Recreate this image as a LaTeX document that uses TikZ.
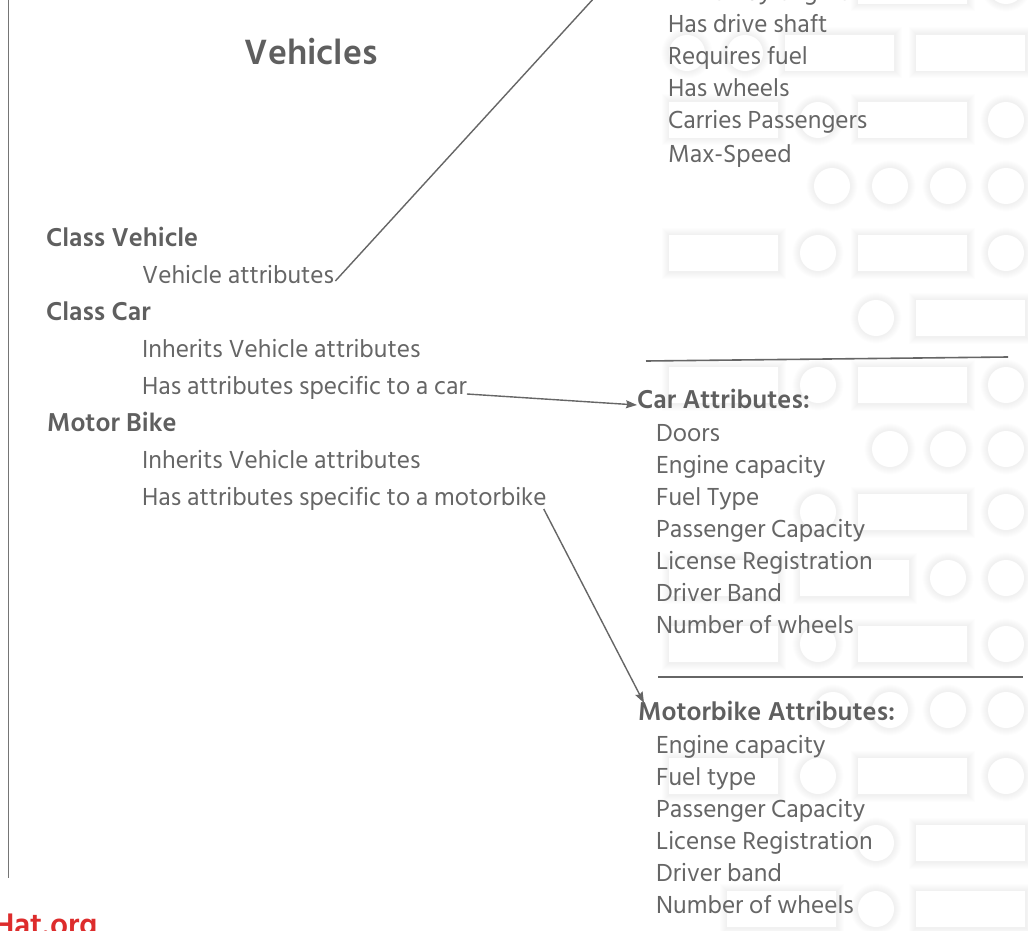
\documentclass[tikz,border=0pt]{standalone}
\usepackage{fontspec}
\setmainfont{Hind Siliguri}
\usetikzlibrary{arrows.meta}
\definecolor{txt}{HTML}{666666}
\definecolor{txtb}{HTML}{5F5F5F}
\definecolor{lin}{HTML}{666666}
\definecolor{wmred}{HTML}{DD2C2C}
\begin{document}
\begin{tikzpicture}[x=1pt,y=-1pt,
  tile/.style={fill=white,draw=none,
    preaction={draw=black,draw opacity=0.009,line width=15pt},
    preaction={draw=black,draw opacity=0.009,line width=13pt},
    preaction={draw=black,draw opacity=0.009,line width=11pt},
    preaction={draw=black,draw opacity=0.009,line width=9pt},
    preaction={draw=black,draw opacity=0.009,line width=7pt},
    preaction={draw=black,draw opacity=0.009,line width=5pt},
    preaction={draw=black,draw opacity=0.009,line width=3pt}},
  t/.style={anchor=base west,inner sep=0pt,text=txt,font=\fontsize{25.3}{28}\selectfont},
  b/.style={anchor=base west,inner sep=0pt,text=txtb,font=\fontsize{26.5}{28}\selectfont\bfseries},
  ttl/.style={anchor=base,inner sep=0pt,text=txtb,font=\fontsize{36}{40}\selectfont\bfseries},
  conn/.style={draw=lin,line width=1.4pt},
  arr/.style={conn,-{Stealth[length=11pt,width=8pt,inset=1.5pt]}},
  rulel/.style={draw=lin,line width=1.6pt}
]
\useasboundingbox (0,0) rectangle (1028,931);
\fill[white] (0,0) rectangle (1028,931);
\begin{scope}
\clip (0,0) rectangle (1028,931);
% ---------- background tiles ----------
% row -1
\path[tile] (858,-32) rectangle ++(109,36);
\path[tile] (1006,-14) circle[radius=18pt];
% row 0
\path[tile] (687,53) circle[radius=18pt];
\path[tile] (745,53) circle[radius=18pt];
\path[tile] (785,35) rectangle ++(109,36);
\path[tile] (916,35) rectangle ++(109,36);
% row 1
\path[tile] (669,102) rectangle ++(109,36);
\path[tile] (818,120) circle[radius=18pt];
\path[tile] (858,102) rectangle ++(109,36);
\path[tile] (1006,120) circle[radius=18pt];
% row 2
\foreach \cx in {832,890,948,1006} {\path[tile] (\cx,186) circle[radius=18pt];}
% row 3
\path[tile] (669,235) rectangle ++(109,36);
\path[tile] (818,253) circle[radius=18pt];
\path[tile] (858,235) rectangle ++(109,36);
\path[tile] (1006,253) circle[radius=18pt];
% row 4
\path[tile] (876,318) circle[radius=18pt];
\path[tile] (916,300) rectangle ++(109,36);
% row 5
\path[tile] (669,367) rectangle ++(109,36);
\path[tile] (818,385) circle[radius=18pt];
\path[tile] (858,367) rectangle ++(109,36);
\path[tile] (1006,385) circle[radius=18pt];
% row 6
\foreach \cx in {890,948,1006} {\path[tile] (\cx,449) circle[radius=18pt];}
% row 7
\path[tile] (818,512) circle[radius=18pt];
\path[tile] (858,494) rectangle ++(109,36);
\path[tile] (1006,512) circle[radius=18pt];
% row 8
\path[tile] (669,560) rectangle ++(109,36);
\path[tile] (800,560) rectangle ++(109,36);
\path[tile] (948,578) circle[radius=18pt];
\path[tile] (1006,578) circle[radius=18pt];
% row 9
\path[tile] (669,626) rectangle ++(109,36);
\path[tile] (818,644) circle[radius=18pt];
\path[tile] (858,626) rectangle ++(109,36);
\path[tile] (1006,644) circle[radius=18pt];
% row 10
\foreach \cx in {833,890,948,1006} {\path[tile] (\cx,710) circle[radius=18pt];}
% row 11
\path[tile] (669,758) rectangle ++(109,36);
\path[tile] (818,776) circle[radius=18pt];
\path[tile] (858,758) rectangle ++(109,36);
\path[tile] (1006,776) circle[radius=18pt];
% row 12
\path[tile] (876,843) circle[radius=18pt];
\path[tile] (916,825) rectangle ++(109,36);
% row 13
\path[tile] (727,891) rectangle ++(109,36);
\path[tile] (876,909) circle[radius=18pt];
\path[tile] (916,891) rectangle ++(109,36);

% ---------- rules ----------
\coordinate (vl1) at (8.5,0);
\coordinate (vl2) at (8.5,878);
\draw[draw=lin!90!white,line width=1.6pt] (vl1) -- (vl2);
\coordinate (ra1) at (646,361);
\coordinate (rb1) at (1008,357);
\draw[rulel] (ra1) -- (rb1);
\coordinate (ra2) at (658,677);
\coordinate (rb2) at (1023,677);
\draw[rulel] (ra2) -- (rb2);

% ---------- title ----------
\node[ttl] (title) at (311,65) {Vehicles};

% ---------- left list ----------
\node[b] (cv) at (46,246) {Class Vehicle};
\node[t] (va) at (142,283) {Vehicle attributes};
\node[b] (cc) at (46,320) {Class Car};
\node[t] (ci) at (142,357) {Inherits Vehicle attributes};
\node[t] (ch) at (142,394) {Has attributes specific to a car};
\node[b] (mb) at (47,431) {Motor Bike};
\node[t] (mi) at (142,468) {Inherits Vehicle attributes};
\node[t] (mh) at (142,505) {Has attributes specific to a motorbike};

% ---------- vehicle attribute list ----------
\node[t] (v0) at (668,1) {Driven by engine};
\node[t] (v1) at (668,33) {Has drive shaft};
\node[t] (v2) at (668,65) {Requires fuel};
\node[t] (v3) at (668,97) {Has wheels};
\node[t] (v4) at (668,129) {Carries Passengers};
\node[t] (v5) at (668,162) {Max-Speed};

% ---------- car attributes ----------
\node[b] (ca) at (637,408) {Car Attributes:};
\node[t] (c1) at (656,441) {Doors};
\node[t] (c2) at (656,473) {Engine capacity};
\node[t] (c3) at (656,505) {Fuel Type};
\node[t] (c4) at (656,537) {Passenger Capacity};
\node[t] (c5) at (656,569) {License Registration};
\node[t] (c6) at (656,601) {Driver Band};
\node[t] (c7) at (656,633) {Number of wheels};

% ---------- motorbike attributes ----------
\node[b] (ma) at (638,720) {Motorbike Attributes:};
\node[t] (m1) at (656,753) {Engine capacity};
\node[t] (m2) at (656,785) {Fuel type};
\node[t] (m3) at (656,817) {Passenger Capacity};
\node[t] (m4) at (656,849) {License Registration};
\node[t] (m5) at (656,881) {Driver band};
\node[t] (m6) at (656,913) {Number of wheels};

% ---------- connectors ----------
\coordinate (vtop) at (595,-3);
\draw[conn] ([xshift=1pt,yshift=2pt]va.base east) -- (vtop);
\draw[arr] (ch.base east) -- ([yshift=3pt]ca.base west);
\draw[arr] ([xshift=-3pt,yshift=-4pt]mh.base east) -- ([xshift=6pt,yshift=17pt]ma.base west);

% ---------- watermark ----------
\node[anchor=base west,inner sep=0pt,text=wmred,font=\fontsize{32}{34}\selectfont\bfseries] (wm) at (-7,935) {Hat.org};
\end{scope}
\end{tikzpicture}
\end{document}
